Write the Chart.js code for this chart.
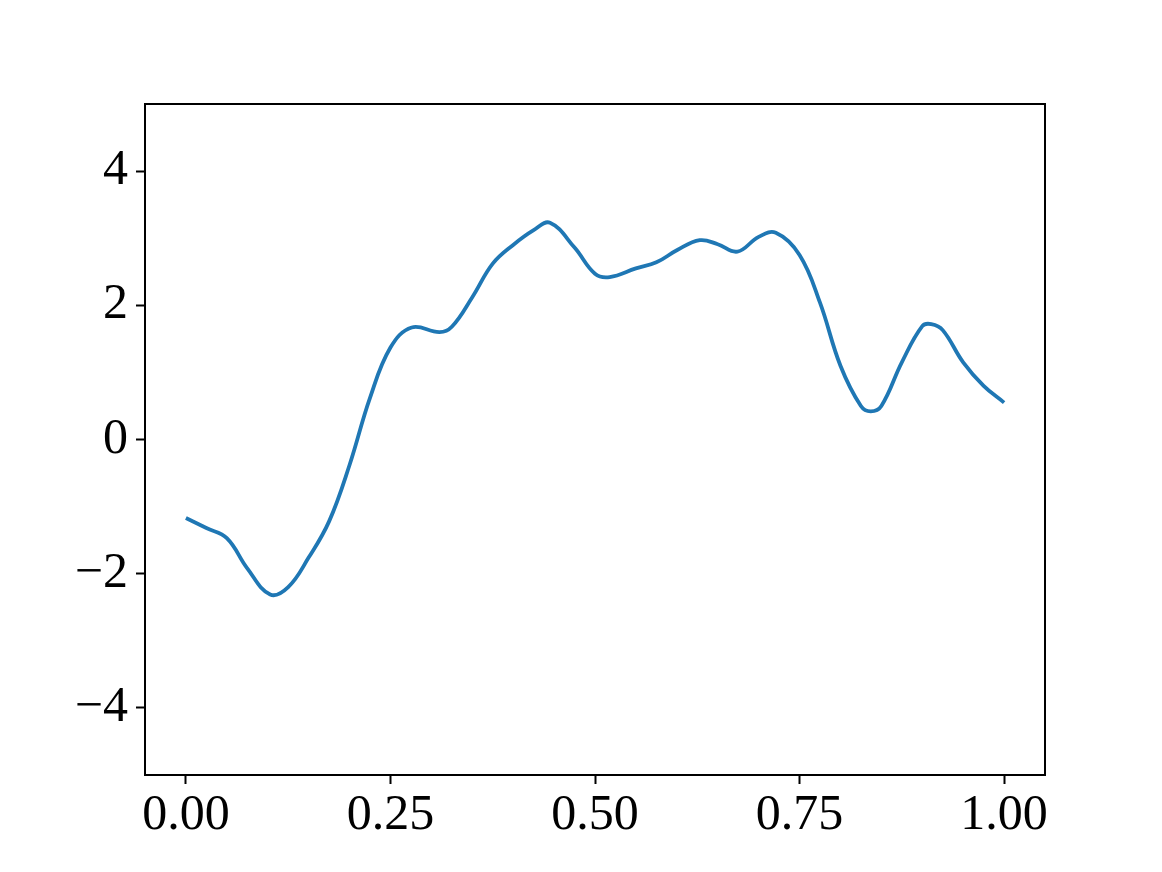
<!DOCTYPE html>
<html>
<head>
<meta charset="utf-8">
<script src="https://cdn.jsdelivr.net/npm/chart.js@4/dist/chart.umd.min.js"></script>
<style>
  body { margin: 0; background: #fff; }
  #wrap { width: 1162px; height: 872px; }
</style>
</head>
<body>
<div id="wrap"><canvas id="lineChart" width="1162" height="872"></canvas></div>
<script>
// Values (extra points at the bumps and dips)
const xValues = [
    0, 0.025, 0.05, 0.075, 0.103, 0.125, 0.15, 0.175, 0.2, 0.225,
    0.25, 0.276, 0.31, 0.325, 0.35, 0.375, 0.4, 0.425, 0.445, 0.475,
    0.5, 0.518, 0.55, 0.575, 0.6, 0.628, 0.65, 0.674, 0.7, 0.721,
    0.75, 0.775, 0.8, 0.825, 0.837, 0.85, 0.875, 0.9, 0.911, 0.925,
    0.95, 0.975, 1.0
];
const yValues = [
    -1.17, -1.32, -1.47, -1.92, -2.31, -2.2, -1.76, -1.22, -0.38, 0.62,
    1.37, 1.67, 1.6, 1.68, 2.12, 2.62, 2.9, 3.12, 3.23, 2.86,
    2.47, 2.42, 2.55, 2.64, 2.82, 2.97, 2.91, 2.8, 3.02, 3.08,
    2.75, 2.04, 1.1, 0.5, 0.42, 0.5, 1.15, 1.69, 1.72, 1.63,
    1.15, 0.8, 0.55
];
const xTicks = [0, 0.25, 0.5, 0.75, 1.0];
const yTicks = [-4, -2, 0, 2, 4];

const tickFont = { family: '"Liberation Serif", "DejaVu Serif", serif', size: 50 };

// Draw the box around the plot area (top and right sides too)
const frame = {
    id: 'frame',
    afterDraw(chart) {
        const a = chart.chartArea;
        const ctx = chart.ctx;
        ctx.save();
        ctx.strokeStyle = '#000';
        ctx.lineWidth = 2;
        ctx.strokeRect(a.left, a.top, a.right - a.left, a.bottom - a.top);
        ctx.restore();
    }
};

new Chart(document.getElementById('lineChart'), {
    type: 'line',
    data: {
        datasets: [{
            data: xValues.map((x, i) => ({ x: x, y: yValues[i] })),
            borderColor: '#1f77b4',
            borderWidth: 3.8,
            pointRadius: 0,
            tension: 0.4,
            fill: false
        }]
    },
    options: {
        responsive: false,
        animation: false,
        layout: { padding: { left: 0, top: 104, right: 117, bottom: 0 } },
        plugins: {
            legend: { display: false },
            tooltip: { enabled: false }
        },
        scales: {
            x: {
                type: 'linear',
                min: -0.05,
                max: 1.05,
                afterBuildTicks: axis => { axis.ticks = xTicks.map(v => ({ value: v })); },
                afterFit: axis => { axis.height = 97; },
                grid: { drawOnChartArea: false, drawTicks: true, tickLength: 9, tickColor: '#000', tickWidth: 2 },
                border: { display: true, color: '#000', width: 2 },
                ticks: {
                    color: '#000',
                    font: tickFont,
                    padding: 2,
                    maxRotation: 0,
                    callback: v => v.toFixed(2)
                }
            },
            y: {
                type: 'linear',
                min: -5,
                max: 5,
                afterBuildTicks: axis => { axis.ticks = yTicks.map(v => ({ value: v })); },
                afterFit: axis => { axis.width = 145; },
                grid: { drawOnChartArea: false, drawTicks: true, tickLength: 9, tickColor: '#000', tickWidth: 2 },
                border: { display: true, color: '#000', width: 2 },
                ticks: {
                    color: '#000',
                    font: tickFont,
                    padding: 8,
                    callback: v => (v < 0 ? '\u2212' + Math.abs(v) : String(v))
                }
            }
        }
    },
    plugins: [frame]
});
</script>
</body>
</html>
